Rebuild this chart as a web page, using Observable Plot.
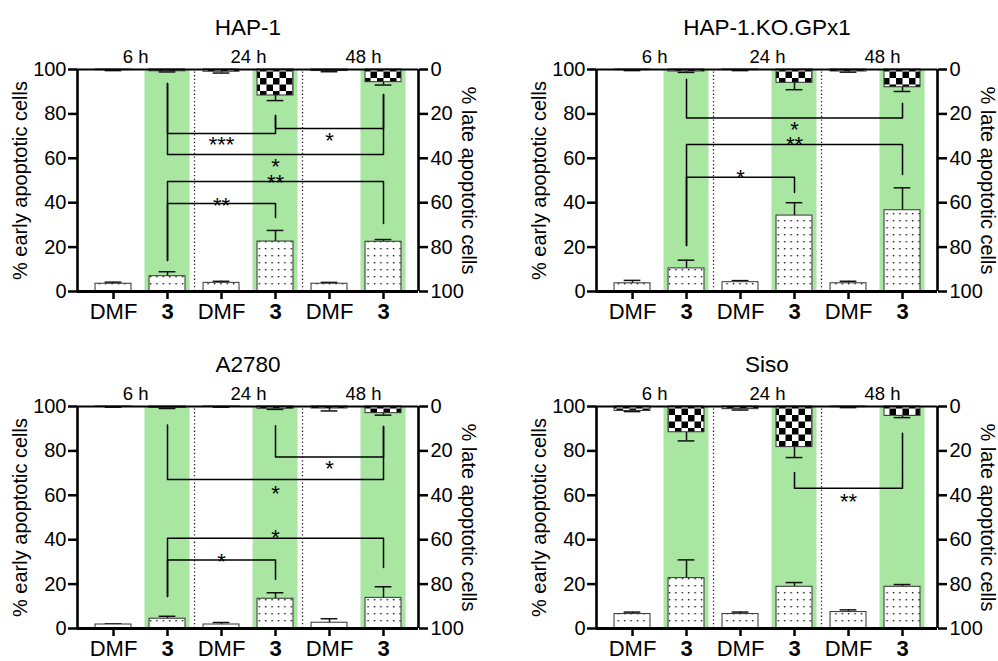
<!DOCTYPE html>
<html>
<head>
<meta charset="utf-8">
<script src="https://cdn.jsdelivr.net/npm/d3@7"></script>
<script src="https://cdn.jsdelivr.net/npm/@observablehq/plot@0.6"></script>
<style>
  html, body { margin: 0; padding: 0; background: #fff; overflow: hidden; }
  #wrap { position: relative; width: 998px; height: 661px; overflow: hidden; }
  .panel { position: absolute; }
  .panel svg { overflow: visible; }
</style>
</head>
<body>
<svg width="0" height="0" style="position:absolute">
  <defs>
    <pattern id="dots" patternUnits="userSpaceOnUse" width="6.4" height="7">
      <rect width="6.4" height="7" fill="#fff"/>
      <rect x="2.6" y="3" width="1.4" height="1.4" fill="#111"/>
    </pattern>
    <pattern id="checker" patternUnits="userSpaceOnUse" width="13" height="13">
      <rect width="13" height="13" fill="#fff"/>
      <rect width="6.5" height="6.5" fill="#000"/>
      <rect x="6.5" y="6.5" width="6.5" height="6.5" fill="#000"/>
    </pattern>
  </defs>
</svg>
<div id="wrap"></div>
<script>
// ---------------- data ----------------
const panelTitles = ["HAP-1", "HAP-1.KO.GPx1", "A2780", "Siso"];
const categories = ["DMF", "3", "DMF", "3", "DMF", "3"];
const timeLabels = ["6 h", "24 h", "48 h"];
const timeLabelX = [0.41, 2.5, 4.63];
const yTicks = [0, 20, 40, 60, 80, 100];

// % early apoptotic cells (left axis), mean and SD per panel
const earlyMean = [
  [3.5, 6.9, 3.9, 22.5, 3.5, 22.4],
  [3.7, 10.4, 4.2, 34.2, 3.7, 36.6],
  [1.8, 4.4, 1.8, 13.4, 2.6, 13.8],
  [6.5, 22.7, 6.5, 18.8, 7.4, 18.8]
];
const earlyErr = [
  [0.7, 2.0, 0.7, 5.0, 0.6, 1.0],
  [1.3, 3.7, 0.7, 5.8, 0.9, 10.1],
  [0.3, 1.1, 0.9, 2.7, 1.8, 5.0],
  [0.9, 8.2, 0.9, 1.9, 1.0, 1.0]
];
// % late apoptotic cells (right axis, drawn from the top)
const lateMean = [
  [0.3, 0.8, 1.0, 11.7, 0.7, 5.7],
  [0.3, 0.9, 0.3, 6.0, 0.9, 8.0],
  [0.2, 0.6, 0.2, 1.0, 0.9, 3.0],
  [2.0, 11.6, 1.2, 18.3, 0.3, 4.2]
];
const lateErr = [
  [0.2, 0.3, 0.6, 2.3, 0.3, 1.3],
  [0.2, 0.4, 0.2, 3.1, 0.3, 1.9],
  [0.1, 0.3, 0.1, 0.3, 1.1, 0.9],
  [0.3, 3.9, 0.4, 4.7, 0.2, 0.8]
];

// significance brackets (values on the left axis)
const bracketPanel = [0, 0, 0, 0, 0, 1, 1, 1, 2, 2, 2, 2, 3];
const bracketFrom  = [1, 3, 1, 1, 1, 1, 1, 1, 3, 1, 1, 1, 3];
const bracketTo    = [3, 5, 5, 5, 3, 5, 5, 3, 5, 5, 5, 3, 5];
const bracketY     = [71.2, 73.4, 61.7, 49.5, 39.6, 78.2, 66.2, 51.5, 77.2, 67.1, 40.7, 30.9, 63.2];
const bracketLegA  = [93.7, 79.3, 93.7, 14.0, 14.0, 95.6, 20.7, 20.7, 91.3, 91.7, 14.4, 14.4, 70.3];
const bracketLegB  = [79.3, 88.7, 88.7, 30.6, 33.3, 84.8, 52.7, 44.6, 91.0, 91.0, 27.5, 22.2, 88.0];
const bracketStars = ["***", "*", "*", "**", "**", "*", "**", "*", "*", "*", "*", "*", "**"];
const bracketStarY = [68.6, 70.3, 59.0, 51.8, 41.4, 75.6, 68.9, 53.7, 74.5, 63.2, 43.4, 32.9, 59.9];

// ---------------- drawing ----------------
const green = "#a8e6a1";
const font = "'Liberation Sans', Arial, Helvetica, sans-serif";
const panelPos = [[0, 0], [519, 0], [0, 337], [519, 337]];
const halfBar = 0.333, halfBand = 0.417, halfCap = 0.155;

function makePanel(p) {
  const rows = categories.map((c, i) => ({
    i, c,
    early: earlyMean[p][i], eErr: earlyErr[p][i],
    late: lateMean[p][i], lErr: lateErr[p][i]
  }));
  const br = bracketPanel.map((pp, k) => k).filter(k => bracketPanel[k] === p);
  const brPts = br.flatMap(k => [
    {k, x: bracketFrom[k], y: bracketLegA[k]},
    {k, x: bracketFrom[k], y: bracketY[k]},
    {k, x: bracketTo[k], y: bracketY[k]},
    {k, x: bracketTo[k], y: bracketLegB[k]}
  ]);
  const brLabels = br.map(k => ({x: (bracketFrom[k] + bracketTo[k]) / 2, y: bracketStarY[k], t: bracketStars[k]}));
  const xDom = [-0.667, 5.648];
  const timeRows = timeLabels.map((t, j) => ({t, x: timeLabelX[j]}));

  const svg = Plot.plot({
    width: 479,
    height: 330,
    marginLeft: 77,
    marginRight: 61,
    marginTop: 69,
    marginBottom: 39,
    style: {fontFamily: font, fontSize: "20px", background: "none", color: "#000", overflow: "visible"},
    x: {type: "linear", domain: xDom},
    y: {domain: [0, 100]},
    marks: [
      Plot.rectY(rows.filter(d => d.c === "3"), {x1: d => d.i - halfBand, x2: d => d.i + halfBand, y1: 0, y2: 100, fill: green}),
      Plot.ruleX([1.5, 3.5], {y1: 0, y2: 100, stroke: "#222", strokeWidth: 1.3, strokeDasharray: "1.3,2.4"}),
      // early apoptotic bars
      Plot.ruleX(rows, {x: "i", y1: "early", y2: d => d.early + d.eErr, stroke: "#111", strokeWidth: 1.5}),
      Plot.ruleY(rows, {y: d => d.early + d.eErr, x1: d => d.i - halfCap, x2: d => d.i + halfCap, stroke: "#111", strokeWidth: 1.5}),
      Plot.rectY(rows, {x1: d => d.i - halfBar, x2: d => d.i + halfBar, y1: 0, y2: "early", fill: "url(#dots)", stroke: "#333", strokeWidth: 1}),
      // late apoptotic bars
      Plot.ruleX(rows, {x: "i", y1: d => 100 - d.late, y2: d => 100 - d.late - d.lErr, stroke: "#111", strokeWidth: 1.5}),
      Plot.ruleY(rows, {y: d => 100 - d.late - d.lErr, x1: d => d.i - halfCap, x2: d => d.i + halfCap, stroke: "#111", strokeWidth: 1.5}),
      Plot.rectY(rows, {x1: d => d.i - halfBar, x2: d => d.i + halfBar, y1: d => 100 - d.late, y2: 100, fill: "url(#checker)", stroke: "#333", strokeWidth: 1}),
      // brackets
      Plot.line(brPts, {x: "x", y: "y", z: "k", stroke: "#000", strokeWidth: 1.5}),
      Plot.text(brLabels, {x: "x", y: "y", text: "t", fontSize: 22, lineAnchor: "middle", dy: 6}),
      // axis lines
      Plot.ruleX(xDom, {y1: 0, y2: 100, stroke: "#000", strokeWidth: 2.6}),
      Plot.ruleY([100], {x1: xDom[0], x2: xDom[1], stroke: "#000", strokeWidth: 2}),
      Plot.ruleY([0], {x1: xDom[0], x2: xDom[1], stroke: "#000", strokeWidth: 3}),
      Plot.axisY({anchor: "left", ticks: yTicks, tickSize: 9, tickPadding: 2, strokeWidth: 2.5, fontSize: 20, label: null}),
      Plot.axisY({anchor: "right", ticks: yTicks, tickFormat: d => String(100 - d), tickSize: 9, tickPadding: 3, strokeWidth: 2.5, fontSize: 20, label: null}),
      Plot.axisX({ticks: [0, 1, 2, 3, 4, 5], tickSize: 8, tickFormat: () => "", strokeWidth: 2.5, label: null}),
      // category labels
      Plot.text(rows.filter(d => d.c === "DMF"), {x: "i", y: 0, text: "c", dy: 20.5, fontSize: 22, lineAnchor: "middle"}),
      Plot.text(rows.filter(d => d.c === "3"), {x: "i", y: 0, text: "c", dy: 20.5, fontSize: 22, fontWeight: "bold", lineAnchor: "middle"}),
      // time labels
      Plot.text(timeRows, {x: "x", y: 100, text: "t", dy: -12, fontSize: 18.5, lineAnchor: "middle"}),
      // titles and axis labels
      Plot.text([panelTitles[p]], {frameAnchor: "top", dy: -42, text: d => d, fontSize: 22.5, textAnchor: "middle", lineAnchor: "middle"}),
      Plot.text(["% early apoptotic cells"], {frameAnchor: "left", dx: -57, rotate: -90, text: d => d, fontSize: 20, textAnchor: "middle", lineAnchor: "middle"}),
      Plot.text(["% late apoptotic cells"], {frameAnchor: "right", dx: 50, rotate: 90, text: d => d, fontSize: 20, textAnchor: "middle", lineAnchor: "middle"})
    ]
  });
  const div = document.createElement("div");
  div.className = "panel";
  div.style.left = panelPos[p][0] + "px";
  div.style.top = panelPos[p][1] + "px";
  div.appendChild(svg);
  document.getElementById("wrap").appendChild(div);
}

for (let p = 0; p < 4; p++) makePanel(p);
</script>
</body>
</html>
